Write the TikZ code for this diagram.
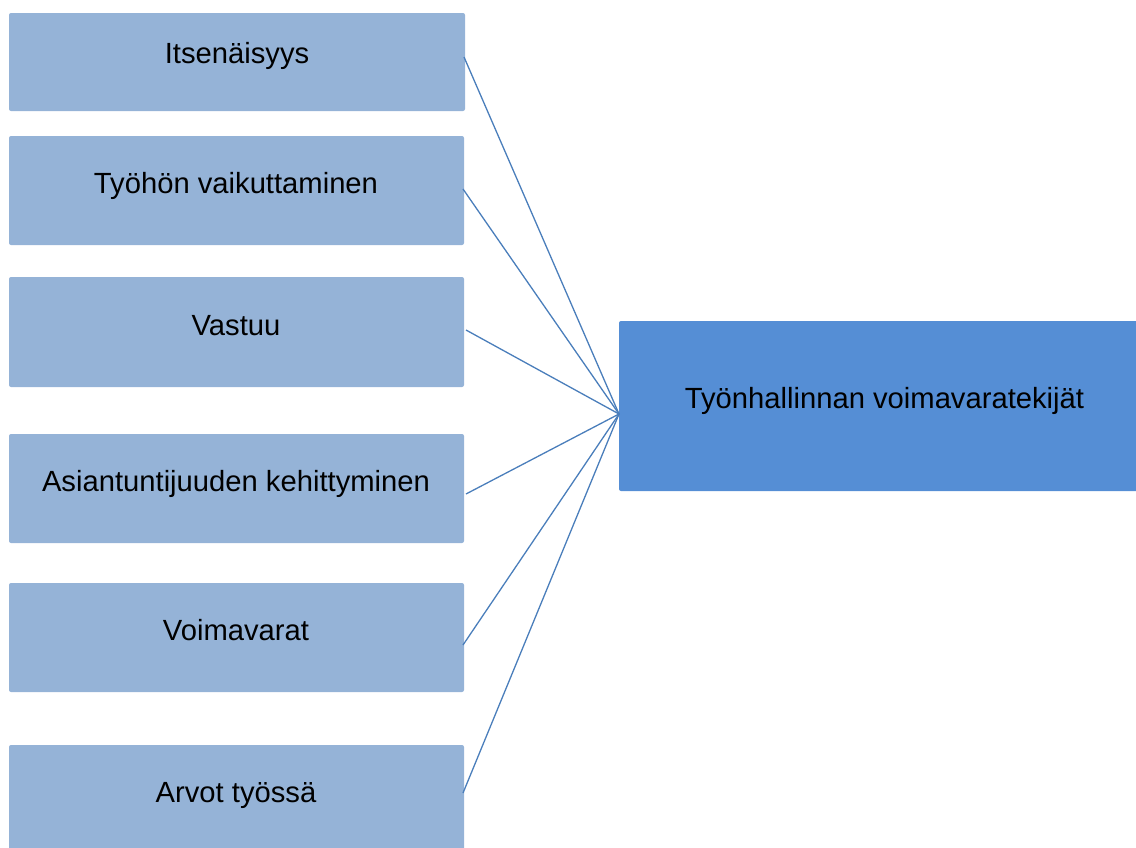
\documentclass[tikz,border=0pt]{standalone}
\usepackage{fontspec}
\setmainfont{Liberation Sans}
\begin{document}
\begin{tikzpicture}[x=1pt,y=-1pt,
  leftbox/.style={fill={rgb,255:red,149;green,179;blue,215}, draw=none, rounded corners=2pt},
  mainbox/.style={fill={rgb,255:red,85;green,142;blue,213}, draw=none, rounded corners=2pt},
  lbl/.style={anchor=base, font=\fontsize{29.2}{34}\selectfont, text=black, inner sep=0pt},
  conn/.style={draw={rgb,255:red,74;green,126;blue,187}, line width=1.3pt}]
\useasboundingbox (0,0) rectangle (1136,847);
\clip (0,0) rectangle (1136,847);
% left boxes
\path[leftbox] (9,13) rectangle (465,111) coordinate (b1);
\path[leftbox] (9,136) rectangle (464,245) coordinate (b2);
\path[leftbox] (9,277) rectangle (464,387) coordinate (b3);
\path[leftbox] (9,434) rectangle (464,543) coordinate (b4);
\path[leftbox] (9,583) rectangle (464,692) coordinate (b5);
\path[leftbox] (9,745) rectangle (464,860) coordinate (b6);
\path[mainbox] (619,321) rectangle (1140,491) coordinate (m);
% labels
\node[lbl] (t1) at (237,63) {Itsenäisyys};
\node[lbl] (t2) at (236,193) {Työhön vaikuttaminen};
\node[lbl] (t3) at (236,335) {Vastuu};
\node[lbl] (t4) at (236,491) {Asiantuntijuuden kehittyminen};
\node[lbl] (t5) at (236,640) {Voimavarat};
\node[lbl] (t6) at (236,802) {Arvot työssä};
\node[lbl] (tm) at (884.5,408) {Työnhallinnan voimavaratekijät};
% connector points
\coordinate (s1) at (464,57);
\coordinate (s2) at (463,189);
\coordinate (s3) at (466,330);
\coordinate (s4) at (466,494);
\coordinate (s5) at (463,645);
\coordinate (s6) at (463,793);
\coordinate (hub) at (619,414);
\foreach \i in {1,...,6} {\draw[conn] (s\i) -- (hub);}
\end{tikzpicture}
\end{document}
